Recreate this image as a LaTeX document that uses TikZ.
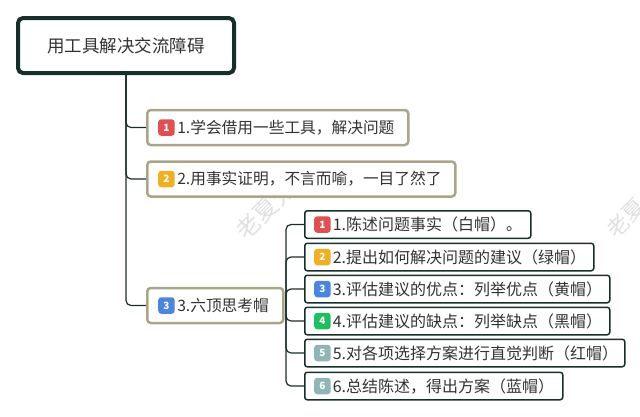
\documentclass[tikz,border=0pt]{standalone}
\usepackage{fontspec}
\setmainfont{Noto Sans CJK SC}
\usepackage{tikz}
\usetikzlibrary{positioning}
\definecolor{darkline}{HTML}{15302B}
\definecolor{oliveline}{HTML}{A9A688}
\definecolor{bodytext}{HTML}{333333}
\definecolor{badgered}{HTML}{E05050}
\definecolor{badgeyellow}{HTML}{F0B020}
\definecolor{badgeblue}{HTML}{4A86E0}
\definecolor{badgegreen}{HTML}{1DC060}
\definecolor{badgegray}{HTML}{8FB5B5}
\begin{document}
\begin{tikzpicture}[x=1pt,y=-1pt,
root/.style = {draw=darkline, line width=4pt, rounded corners=5pt, fill=white, minimum width=216pt, minimum height=55pt, text=bodytext, font=\fontsize{17.5}{20}\selectfont},
topic/.style = {draw=oliveline, line width=2.5pt, rounded corners=3.5pt, fill=white, anchor=west, minimum height=35pt, inner ysep=0pt, inner xsep=0pt, text width=#1, text=bodytext, font=\fontsize{15.7}{18}\selectfont},
hat/.style = {draw=darkline, line width=1.5pt, rounded corners=2.5pt, fill=white, anchor=west, minimum height=27.5pt, inner ysep=0pt, inner xsep=0pt, text width=#1, text=bodytext, font=\fontsize{16}{18}\selectfont},
badge/.style = {fill=#1, rounded corners=3pt, minimum size=16.5pt, inner sep=0pt, text=white, font=\fontsize{10}{10}\selectfont\bfseries},
link/.style = {draw=darkline, line width=1.2pt, rounded corners=5pt},
mark text/.style = {text=black!12, rotate=45, font=\fontsize{#1}{20}\selectfont},
]
\useasboundingbox (0,0) rectangle (640,416);
\node[mark text=24, anchor=west] (mark1) at (238,238) {老夏分};
\node[mark text=22, anchor=west] (mark2) at (608,236) {老夏};
\node[root] (top) at (126,45.5) {用工具解决交流障碍};
\node[topic=261pt] (t1) at (146,127.5) {\hspace*{30pt}1.学会借用一些工具，解决问题};
\node[topic=308pt] (t2) at (146,179) {\hspace*{30pt}2.用事实证明，不言而喻，一目了然了};
\node[topic=136pt] (t3) at (146,305.5) {\hspace*{30pt}3.六顶思考帽};
\node[hat=226pt] (h1) at (304,224.5) {\hspace*{28pt}1.陈述问题事实（白帽）。};
\node[hat=289pt] (h2) at (304,257) {\hspace*{28pt}2.提出如何解决问题的建议（绿帽）};
\node[hat=305pt] (h3) at (304,289) {\hspace*{28pt}3.评估建议的优点：列举优点（黄帽）};
\node[hat=305pt] (h4) at (304,321) {\hspace*{28pt}4.评估建议的缺点：列举缺点（黑帽）};
\node[hat=320pt] (h5) at (304,353) {\hspace*{28pt}5.对各项选择方案进行直觉判断（红帽）};
\node[hat=258pt] (h6) at (304,386) {\hspace*{28pt}6.总结陈述，得出方案（蓝帽）};
\node[badge=badgered, right=12pt of t1.west] (b1) {1};
\node[badge=badgeyellow, right=12pt of t2.west] (b2) {2};
\node[badge=badgeblue, right=12pt of t3.west] (b3) {3};
\node[badge=badgered, right=10pt of h1.west] (c1) {1};
\node[badge=badgeyellow, right=10pt of h2.west] (c2) {2};
\node[badge=badgeblue, right=10pt of h3.west] (c3) {3};
\node[badge=badgegreen, right=10pt of h4.west] (c4) {4};
\node[badge=badgegray, right=10pt of h5.west] (c5) {5};
\node[badge=badgegray, right=10pt of h6.west] (c6) {6};
\coordinate (fork) at (286,305.5);
\draw[link] (top.south) |- (t1.west);
\draw[link] (top.south) |- (t2.west);
\draw[link] (top.south) |- (t3.west);
\draw[link] (t3.east) -- (fork);
\draw[link] (fork) |- (h1.west);
\draw[link] (fork) |- (h2.west);
\draw[link] (fork) |- (h3.west);
\draw[link] (fork) |- (h4.west);
\draw[link] (fork) |- (h5.west);
\draw[link] (fork) |- (h6.west);
\end{tikzpicture}
\end{document}
